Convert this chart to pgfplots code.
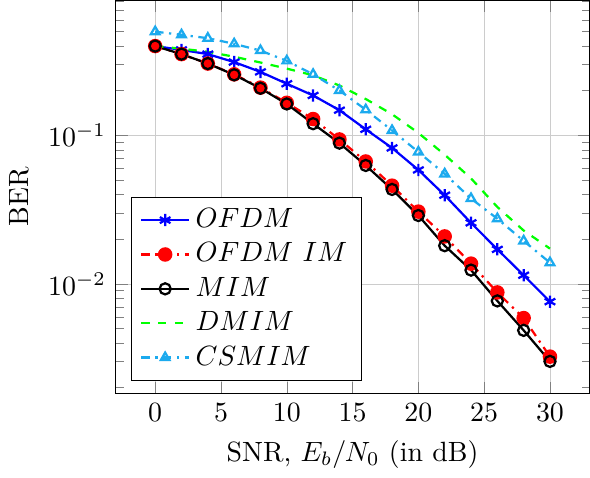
\documentclass[border=0pt]{standalone}
\usepackage{pgfplots}
\pgfplotsset{compat=1.18}
\definecolor{csmblue}{HTML}{1CAAEE}

\begin{document}
\begin{tikzpicture}
\begin{axis}[
  scale only axis,
  width=170pt, height=141pt,
  ymode=log,
  xmin=-3, xmax=33,
  ymin=0.00183, ymax=0.81,
  xtick={0,5,...,30},
  grid=major,
  major grid style={line width=.2pt, draw=gray!40},
  xlabel={SNR, $E_b/N_0$ (in dB)},
  ylabel={BER},
  legend style={at={(0.033,0.032)}, anchor=south west, legend cell align=left},
  tick align=inside,
]
\addplot[color=blue, thick, mark=asterisk, mark size=2.2pt] coordinates {
(0,0.40) (2,0.377) (4,0.353) (6,0.312) (8,0.268) (10,0.223) (12,0.186) (14,0.148)
(16,0.110) (18,0.0824) (20,0.0586) (22,0.0396) (24,0.0258) (26,0.0171) (28,0.01145) (30,0.0076)};
\addlegendentry{$OFDM$}
\addplot[color=red, thick, dash dot, mark=*, mark size=2.2pt, mark options={solid}] coordinates {
(0,0.40) (2,0.353) (4,0.305) (6,0.258) (8,0.210) (10,0.166) (12,0.129) (14,0.094)
(16,0.0668) (18,0.0459) (20,0.0307) (22,0.0209) (24,0.0137) (26,0.00877) (28,0.00589) (30,0.00324)};
\addlegendentry{$OFDM\ IM$}
\addplot[color=black, thick, mark=o, mark size=2pt] coordinates {
(0,0.40) (2,0.353) (4,0.305) (6,0.256) (8,0.208) (10,0.163) (12,0.120) (14,0.0888)
(16,0.0628) (18,0.0433) (20,0.0289) (22,0.0181) (24,0.0124) (26,0.00769) (28,0.00487) (30,0.00301)};
\addlegendentry{$MIM$}
\addplot[color=green, thick, dashed] coordinates {
(0,0.40) (2,0.384) (4,0.366) (6,0.339) (8,0.310) (10,0.282) (12,0.254) (14,0.217)
(16,0.176) (18,0.139) (20,0.104) (22,0.0742) (24,0.0514) (26,0.0330) (28,0.0229) (30,0.0173)};
\addlegendentry{$DMIM$}
\addplot[color=csmblue, thick, dash dot, mark=triangle, mark size=1.8pt, mark options={solid}] coordinates {
(0,0.50) (2,0.476) (4,0.452) (6,0.414) (8,0.373) (10,0.318) (12,0.258) (14,0.201)
(16,0.149) (18,0.108) (20,0.0774) (22,0.0551) (24,0.0376) (26,0.0275) (28,0.0195) (30,0.0139)};
\addlegendentry{$CSMIM$}
\end{axis}
\end{tikzpicture}
\end{document}
